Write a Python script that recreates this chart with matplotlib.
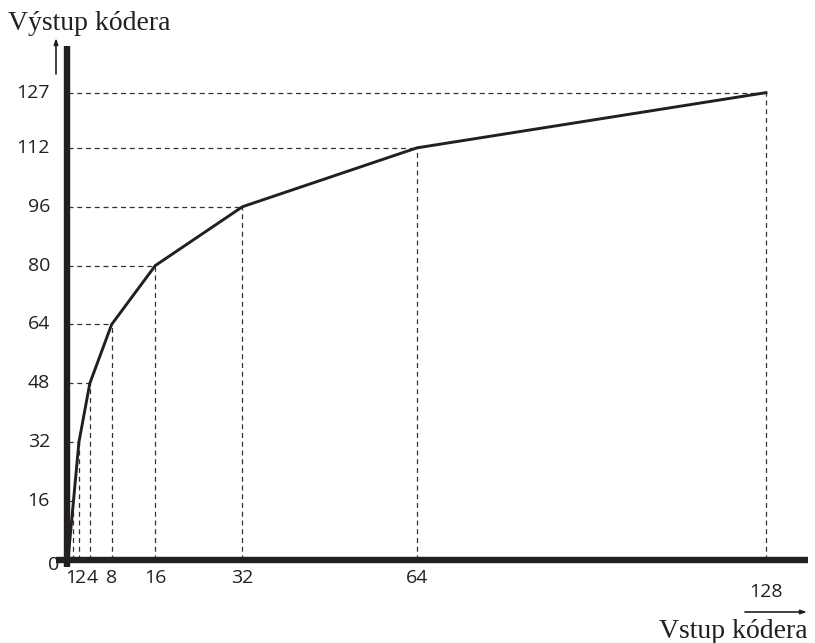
import matplotlib
matplotlib.use("Agg")
import matplotlib.pyplot as plt

# Segment end points of the compressor characteristic
vstup = [0, 1, 2, 4, 8, 16, 32, 64, 128]
vystup = [0, 16, 32, 48, 64, 80, 96, 112, 127]

x_ticks = [1, 2, 4, 8, 16, 32, 64]
x_tick_labels = ["1", "2", "4", "8", "16", "32", "64"]
y_ticks = [16, 32, 48, 64, 80, 96, 112, 127]
y_tick_labels = ["16", "32", "48", "64", "80", "96", "112", "127"]

W, H = 815, 643
fig = plt.figure(figsize=(W / 100, H / 100), dpi=100)
ax = fig.add_axes([0, 0, 1, 1])
ax.set_axis_off()

# pixel geometry of the plot
px_per_x = 5.453
px_per_y = 3.68
x0_px, y0_px = 68, 560  # position of the origin (from top-left)
ax.set_xlim(-x0_px / px_per_x, (W - x0_px) / px_per_x)
ax.set_ylim(-(H - y0_px) / px_per_y, y0_px / px_per_y)

sans = "Open Sans"
serif = "Liberation Serif"
ink = "#231f20"
dash_col = "#333333"
fs_tick = 14
fs_title = 20

# dashed guide lines to each break point
for xv, yv in zip(vstup[1:], vystup[1:]):
    ax.plot([0, xv], [yv, yv], ls=(0, (4.0, 3.0)), lw=0.9, color=dash_col,
            clip_on=False, zorder=2)
    ax.plot([xv, xv], [0, yv], ls=(0, (4.0, 3.0)), lw=0.9, color=dash_col,
            clip_on=False, zorder=2)

# characteristic curve
ax.plot(vstup, vystup, color=ink, lw=2.1, solid_joinstyle="miter",
        clip_on=False, zorder=3)

# thick axes
ax.plot([-12 / px_per_x, 740 / px_per_x], [0, 0], color=ink, lw=4.6,
        solid_capstyle="butt", clip_on=False, zorder=4)
ax.plot([-1 / px_per_x, -1 / px_per_x], [-7 / px_per_y, 514 / px_per_y],
        color=ink, lw=4.6, solid_capstyle="butt", clip_on=False, zorder=4)

# tick labels (the crowded 1-2-4 group is spread apart slightly)
nudge_px = {1: -3.0, 2: 2.0, 4: 2.0}
for xv, lab in zip(x_ticks, x_tick_labels):
    ax.text(xv + nudge_px.get(xv, 0) / px_per_x, -18 / px_per_y, lab,
            ha="center", va="center", fontsize=fs_tick, family=sans, color=ink)
ax.text(-14 / px_per_x, -5 / px_per_y, "0", ha="center", va="center",
        fontsize=fs_tick, family=sans, color=ink)
ax.text(128, -32 / px_per_y, "128", ha="center", va="center",
        fontsize=fs_tick, family=sans, color=ink)
for yv, lab in zip(y_ticks, y_tick_labels):
    ax.text(-18 / px_per_x, yv, lab, ha="right", va="center",
            fontsize=fs_tick, family=sans, color=ink)

# axis arrows
ax.annotate("", xy=(-12 / px_per_x, 522 / px_per_y),
            xytext=(-12 / px_per_x, 486 / px_per_y),
            arrowprops=dict(arrowstyle="-|>,head_length=0.35,head_width=0.12",
                            lw=1.2, color=ink, shrinkA=0, shrinkB=0),
            annotation_clip=False)
ax.annotate("", xy=(739 / px_per_x, -52 / px_per_y),
            xytext=(677 / px_per_x, -52 / px_per_y),
            arrowprops=dict(arrowstyle="-|>,head_length=0.35,head_width=0.12",
                            lw=1.2, color=ink, shrinkA=0, shrinkB=0),
            annotation_clip=False)

# axis titles
ax.text(-60 / px_per_x, 537 / px_per_y, "Výstup kódera", ha="left",
        va="center", fontsize=fs_title, family=serif, color=ink)
ax.text(740 / px_per_x, -78 / px_per_y, "Vstup kódera", ha="right",
        va="baseline", fontsize=fs_title, family=serif, color=ink)

fig.savefig("out.png", dpi=100)
